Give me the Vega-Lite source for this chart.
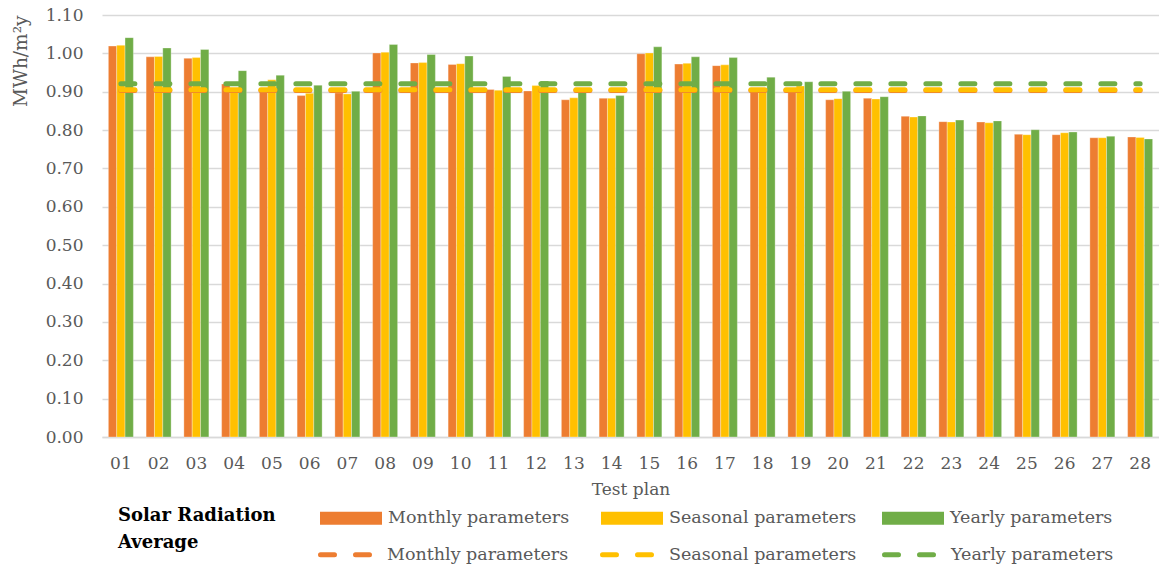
{
  "$schema": "https://vega.github.io/schema/vega-lite/v6.json",
  "width": 1057,
  "height": 422,
  "autosize": {"type": "none"},
  "padding": {"left": 102, "top": 15, "right": 0, "bottom": 129},
  "background": "white",
  "config": {
    "font": "DejaVu Serif",
    "view": {"stroke": null}
  },
  "datasets": {
    "bars": [
      {"plan": "01", "series": "Monthly parameters", "value": 1.019},
      {"plan": "01", "series": "Seasonal parameters", "value": 1.021},
      {"plan": "01", "series": "Yearly parameters", "value": 1.041},
      {"plan": "02", "series": "Monthly parameters", "value": 0.991},
      {"plan": "02", "series": "Seasonal parameters", "value": 0.992},
      {"plan": "02", "series": "Yearly parameters", "value": 1.014},
      {"plan": "03", "series": "Monthly parameters", "value": 0.987},
      {"plan": "03", "series": "Seasonal parameters", "value": 0.989},
      {"plan": "03", "series": "Yearly parameters", "value": 1.010},
      {"plan": "04", "series": "Monthly parameters", "value": 0.920},
      {"plan": "04", "series": "Seasonal parameters", "value": 0.908},
      {"plan": "04", "series": "Yearly parameters", "value": 0.955},
      {"plan": "05", "series": "Monthly parameters", "value": 0.908},
      {"plan": "05", "series": "Seasonal parameters", "value": 0.931},
      {"plan": "05", "series": "Yearly parameters", "value": 0.943},
      {"plan": "06", "series": "Monthly parameters", "value": 0.890},
      {"plan": "06", "series": "Seasonal parameters", "value": 0.896},
      {"plan": "06", "series": "Yearly parameters", "value": 0.917},
      {"plan": "07", "series": "Monthly parameters", "value": 0.897},
      {"plan": "07", "series": "Seasonal parameters", "value": 0.894},
      {"plan": "07", "series": "Yearly parameters", "value": 0.901},
      {"plan": "08", "series": "Monthly parameters", "value": 1.001},
      {"plan": "08", "series": "Seasonal parameters", "value": 1.003},
      {"plan": "08", "series": "Yearly parameters", "value": 1.023},
      {"plan": "09", "series": "Monthly parameters", "value": 0.975},
      {"plan": "09", "series": "Seasonal parameters", "value": 0.976},
      {"plan": "09", "series": "Yearly parameters", "value": 0.997},
      {"plan": "10", "series": "Monthly parameters", "value": 0.971},
      {"plan": "10", "series": "Seasonal parameters", "value": 0.973},
      {"plan": "10", "series": "Yearly parameters", "value": 0.993},
      {"plan": "11", "series": "Monthly parameters", "value": 0.906},
      {"plan": "11", "series": "Seasonal parameters", "value": 0.904},
      {"plan": "11", "series": "Yearly parameters", "value": 0.940},
      {"plan": "12", "series": "Monthly parameters", "value": 0.902},
      {"plan": "12", "series": "Seasonal parameters", "value": 0.916},
      {"plan": "12", "series": "Yearly parameters", "value": 0.928},
      {"plan": "13", "series": "Monthly parameters", "value": 0.879},
      {"plan": "13", "series": "Seasonal parameters", "value": 0.884},
      {"plan": "13", "series": "Yearly parameters", "value": 0.905},
      {"plan": "14", "series": "Monthly parameters", "value": 0.883},
      {"plan": "14", "series": "Seasonal parameters", "value": 0.883},
      {"plan": "14", "series": "Yearly parameters", "value": 0.890},
      {"plan": "15", "series": "Monthly parameters", "value": 0.999},
      {"plan": "15", "series": "Seasonal parameters", "value": 1.001},
      {"plan": "15", "series": "Yearly parameters", "value": 1.017},
      {"plan": "16", "series": "Monthly parameters", "value": 0.972},
      {"plan": "16", "series": "Seasonal parameters", "value": 0.974},
      {"plan": "16", "series": "Yearly parameters", "value": 0.991},
      {"plan": "17", "series": "Monthly parameters", "value": 0.968},
      {"plan": "17", "series": "Seasonal parameters", "value": 0.970},
      {"plan": "17", "series": "Yearly parameters", "value": 0.989},
      {"plan": "18", "series": "Monthly parameters", "value": 0.905},
      {"plan": "18", "series": "Seasonal parameters", "value": 0.902},
      {"plan": "18", "series": "Yearly parameters", "value": 0.938},
      {"plan": "19", "series": "Monthly parameters", "value": 0.900},
      {"plan": "19", "series": "Seasonal parameters", "value": 0.915},
      {"plan": "19", "series": "Yearly parameters", "value": 0.926},
      {"plan": "20", "series": "Monthly parameters", "value": 0.879},
      {"plan": "20", "series": "Seasonal parameters", "value": 0.882},
      {"plan": "20", "series": "Yearly parameters", "value": 0.901},
      {"plan": "21", "series": "Monthly parameters", "value": 0.883},
      {"plan": "21", "series": "Seasonal parameters", "value": 0.881},
      {"plan": "21", "series": "Yearly parameters", "value": 0.887},
      {"plan": "22", "series": "Monthly parameters", "value": 0.836},
      {"plan": "22", "series": "Seasonal parameters", "value": 0.834},
      {"plan": "22", "series": "Yearly parameters", "value": 0.837},
      {"plan": "23", "series": "Monthly parameters", "value": 0.822},
      {"plan": "23", "series": "Seasonal parameters", "value": 0.821},
      {"plan": "23", "series": "Yearly parameters", "value": 0.826},
      {"plan": "24", "series": "Monthly parameters", "value": 0.821},
      {"plan": "24", "series": "Seasonal parameters", "value": 0.819},
      {"plan": "24", "series": "Yearly parameters", "value": 0.824},
      {"plan": "25", "series": "Monthly parameters", "value": 0.789},
      {"plan": "25", "series": "Seasonal parameters", "value": 0.788},
      {"plan": "25", "series": "Yearly parameters", "value": 0.801},
      {"plan": "26", "series": "Monthly parameters", "value": 0.788},
      {"plan": "26", "series": "Seasonal parameters", "value": 0.793},
      {"plan": "26", "series": "Yearly parameters", "value": 0.795},
      {"plan": "27", "series": "Monthly parameters", "value": 0.780},
      {"plan": "27", "series": "Seasonal parameters", "value": 0.780},
      {"plan": "27", "series": "Yearly parameters", "value": 0.784},
      {"plan": "28", "series": "Monthly parameters", "value": 0.782},
      {"plan": "28", "series": "Seasonal parameters", "value": 0.781},
      {"plan": "28", "series": "Yearly parameters", "value": 0.777}
    ],
    "avg": [
      {"plan": "01", "average": "Monthly average", "value": 0.903},
      {"plan": "28", "average": "Monthly average", "value": 0.903},
      {"plan": "01", "average": "Seasonal average", "value": 0.905},
      {"plan": "28", "average": "Seasonal average", "value": 0.905},
      {"plan": "01", "average": "Yearly average", "value": 0.921},
      {"plan": "28", "average": "Yearly average", "value": 0.921}
    ]
  },
  "encoding": {
    "x": {
      "field": "plan", "type": "nominal", "title": "Test plan",
      "scale": {"paddingInner": 0.338, "paddingOuter": 0.169},
      "axis": {
        "labelAngle": 0, "labelFontSize": 17, "labelColor": "#595959", "labelPadding": 18,
        "ticks": false, "domainColor": "#d9d9d9", "domainWidth": 1.5, "grid": false,
        "titleFontSize": 17, "titleFontWeight": "normal", "titleColor": "#595959", "titlePadding": 10
      }
    },
    "y": {
      "field": "value", "type": "quantitative", "title": "MWh/m²y",
      "scale": {"domain": [0, 1.1], "nice": false},
      "axis": {
        "values": [0, 0.1, 0.2, 0.3, 0.4, 0.5, 0.6, 0.7, 0.8, 0.9, 1.0, 1.1],
        "labelOverlap": false,
        "format": ".2f", "labelFontSize": 17, "labelColor": "#595959", "labelPadding": 19,
        "ticks": false, "domain": false, "gridColor": "#d9d9d9", "gridWidth": 1.3,
        "titleFontSize": 18.5, "titleFontWeight": "normal", "titleColor": "#595959",
        "titleAnchor": "end", "titlePadding": 15
      }
    }
  },
  "layer": [
    {
      "data": {"name": "bars"},
      "mark": {"type": "bar", "stroke": "white", "strokeWidth": 0.5, "strokeOpacity": 0.6},
      "encoding": {
        "xOffset": {
          "field": "series", "type": "nominal",
          "sort": ["Monthly parameters", "Seasonal parameters", "Yearly parameters"],
          "scale": {"paddingInner": 0, "paddingOuter": 0}
        },
        "fill": {
          "field": "series", "type": "nominal",
          "scale": {
            "domain": ["Monthly parameters", "Seasonal parameters", "Yearly parameters"],
            "range": ["#ED7D31", "#FFC000", "#70AD47"]
          },
          "legend": {
            "orient": "none", "legendX": 16, "legendY": 472,
            "direction": "horizontal", "columns": 3, "gridAlign": "all",
            "title": "Solar Radiation", "titleOrient": "left", "titleFontSize": 18,
            "titleFontWeight": "bold", "titleColor": "black", "titlePadding": 44,
            "titleAnchor": "middle", "titleBaseline": "top", "titleLimit": 300,
            "symbolType": "M-1,-0.21H1V0.21H-1Z", "symbolSize": 3844, "symbolStrokeWidth": 0,
            "symbolOpacity": 1, "labelLimit": 300,
            "labelFontSize": 17.5, "labelColor": "#595959", "labelOffset": 6, "columnPadding": 25
          }
        }
      }
    },
    {
      "data": {"name": "avg"},
      "mark": {"type": "line", "strokeWidth": 5, "strokeDash": [14, 21], "strokeCap": "round"},
      "encoding": {
        "stroke": {
          "field": "average", "type": "nominal",
          "scale": {
            "domain": ["Monthly average", "Seasonal average", "Yearly average"],
            "range": ["#ED7D31", "#FFC000", "#70AD47"]
          },
          "legend": {
            "orient": "none", "legendX": 16, "legendY": 506,
            "direction": "horizontal", "columns": 3, "gridAlign": "all",
            "title": "Average", "titleOrient": "left", "titleFontSize": 18,
            "titleFontWeight": "bold", "titleColor": "black", "titlePadding": 119,
            "titleAnchor": "middle", "titleBaseline": "middle", "titleLimit": 300,
            "labelExpr": "replace(datum.label, ' average', ' parameters')", "labelLimit": 300,
            "symbolType": "stroke", "symbolSize": 3844, "symbolStrokeWidth": 5, "symbolDash": [14, 21],
            "labelFontSize": 17.5, "labelColor": "#595959", "labelOffset": 2, "columnPadding": 17,
            "encode": {"symbols": {"update": {"strokeCap": {"value": "round"}}}}
          }
        }
      }
    }
  ]
}
